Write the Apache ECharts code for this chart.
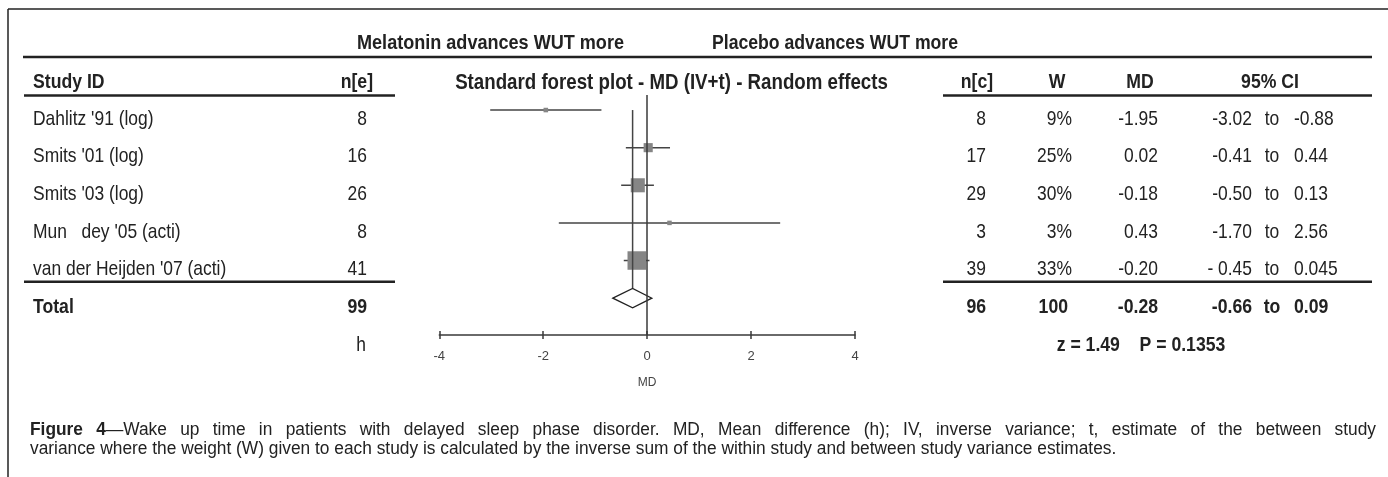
<!DOCTYPE html>
<html>
<head>
<meta charset="utf-8">
<script src="https://cdn.jsdelivr.net/npm/echarts@6/dist/echarts.min.js"></script>
<style>
html, body { margin: 0; padding: 0; background: #ffffff; }
#chart { width: 1388px; height: 477px; }
</style>
</head>
<body>
<div id="chart"></div>
<script>
//Study rows
let study_names = ["Dahlitz '91 (log)", "Smits '01 (log)", "Smits '03 (log)", "Mun   dey '05 (acti)", "van der Heijden '07 (acti)"];
let n_e = [8, 16, 26, 8, 41];
let n_c = [8, 17, 29, 3, 39];
let weights = [9, 25, 30, 3, 33];
let md_values = [-1.95, 0.02, -0.18, 0.43, -0.20];
let ci_low = [-3.02, -0.41, -0.50, -1.70, -0.45];
let ci_high = [-0.88, 0.44, 0.13, 2.56, 0.045];
let md_labels = ["-1.95", "0.02", "-0.18", "0.43", "-0.20"];
let ci_low_labels = ["-3.02", "-0.41", "-0.50", "-1.70", "- 0.45"];
let ci_high_labels = ["-0.88", "0.44", "0.13", "2.56", "0.045"];

//Pooled (random effects) result
let total_n_e = 99;
let total_n_c = 96;
let total_weight = "100";
let total_md = -0.28;
let total_ci_low = -0.66;
let total_ci_high = 0.09;
let total_labels = ["-0.28", "-0.66", "0.09"];
let test_label = "z = 1.49    P = 0.1353";

//Axis
let x_ticks = [-4, -2, 0, 2, 4];
let x_axis_name = "MD";
let unit_label = "h";

//Texts
let side_labels = ["Melatonin advances WUT more", "Placebo advances WUT more"];
let plot_title = "Standard forest plot - MD (IV+t) - Random effects";
let left_headers = ["Study ID", "n[e]"];
let right_headers = ["n[c]", "W", "MD", "95% CI"];
let caption_label = "Figure 4";
let caption_lines = [
	"\u2014Wake up time in patients with delayed sleep phase disorder. MD, Mean difference (h); IV, inverse variance; t, estimate of the between study",
	"variance where the weight (W) given to each study is calculated by the inverse sum of the within study and between study variance estimates."
];

let FONT = "'Liberation Sans', Arial, sans-serif";
let TEXT_COLOUR = "#222222";
let BODY_SIZE = 21;
let NARROW = 0.83; //the figure is set in a condensed face
let TEXT_DROP = 9; //table text sits a little below the plotted marks

let chart = echarts.init(document.getElementById("chart"), null, { renderer: "canvas" });
let measure_ctx = document.createElement("canvas").getContext("2d");

function getBoxSize (arg0_weight) {
	let weight = arg0_weight;
	return 4.5 + 14*Math.pow(weight/33, 4);
}

function getFont (bold, size) {
	return `${bold ? "bold " : ""}${size || BODY_SIZE}px ${FONT}`;
}

function makeText (x, y, text, align, bold, size, scale) {
	return {
		type: "text",
		x: x, y: y,
		scaleX: scale || (bold ? 0.84 : NARROW),
		style: {
			text: text,
			textAlign: align,
			textVerticalAlign: "middle",
			fill: TEXT_COLOUR,
			font: getFont(bold, size)
		}
	};
}

function makeLine (x1, y1, x2, y2, width) {
	return {
		type: "line",
		shape: { x1: x1, y1: y1, x2: x2, y2: y2 },
		style: { stroke: "#222222", lineWidth: width || 2 }
	};
}

//Lay out one caption line word by word so that it fills [x0, x1]
function justifyLine (arg0_words, x0, x1, y, size, scale) {
	let words = arg0_words;
	let elements = [];
	let widths = words.map((local_runs) => {
		let total = 0;
		local_runs.forEach((local_run) => {
			measure_ctx.font = getFont(local_run.bold, size);
			local_run.width = measure_ctx.measureText(local_run.text).width*scale;
			total += local_run.width;
		});
		return total;
	});
	let natural = widths.reduce((a, b) => a + b, 0);
	let gap = (x1 - x0 - natural)/(words.length - 1);
	let x = x0;
	
	words.forEach((local_runs, i) => {
		let run_x = x;
		local_runs.forEach((local_run) => {
			elements.push(makeText(run_x, y, local_run.text, "left", local_run.bold, size, scale));
			run_x += local_run.width;
		});
		x += widths[i] + gap;
	});
	
	return elements;
}

//Build series data
let study_data = md_values.map((local_md, i) => [local_md, i, ci_low[i], ci_high[i], weights[i]]);
let table_data = study_names.map((local_name, i) => [0, i]);

let x_min = x_ticks[0];
let x_max = x_ticks[x_ticks.length - 1];
let x_interval = x_ticks[1] - x_ticks[0];

//Caption words, first one bold
let caption_words = caption_label.split(" ").map((local_word) => [{ text: local_word, bold: true }]);
let first_words = caption_lines[0].split(" ");
caption_words[caption_words.length - 1].push({ text: first_words[0], bold: false });
first_words.slice(1).forEach((local_word) => caption_words.push([{ text: local_word, bold: false }]));
let caption_size = 17.5;
let caption_scale = 0.99;

let option = {
	animation: false,
	backgroundColor: "#ffffff",
	grid: { left: 439.3, right: 533, top: 95, bottom: 142, containLabel: false },
	xAxis: [{
		type: "value",
		min: x_min, max: x_max, interval: x_interval,
		splitLine: { show: false },
		axisLine: { show: true, onZero: false, lineStyle: { color: "#3a3a3a", width: 1.5 } },
		axisTick: { show: true, length: 4, lineStyle: { color: "#3a3a3a", width: 1.5 } },
		axisLabel: { color: "#444444", fontSize: 13, fontFamily: FONT, margin: 15 },
		name: x_axis_name,
		nameLocation: "middle",
		nameGap: 42,
		nameTextStyle: { color: "#444444", fontSize: 12, fontFamily: FONT }
	}, {
		type: "value",
		position: "bottom",
		min: x_min, max: x_max, interval: x_interval,
		splitLine: { show: false },
		axisLine: { show: false, onZero: false },
		axisTick: { show: true, inside: true, length: 4, lineStyle: { color: "#3a3a3a", width: 1.5 } },
		axisLabel: { show: false }
	}],
	yAxis: {
		type: "value",
		inverse: true,
		min: -0.4, max: 5.98,
		show: false
	},
	series: [
		{
			//Line of no effect
			type: "line",
			data: [],
			markLine: {
				silent: true,
				symbol: "none",
				label: { show: false },
				lineStyle: { color: "#3a3a3a", width: 1.5, type: "solid" },
				data: [{ xAxis: 0 }]
			}
		},
		{
			//Study estimates and CIs
			type: "custom",
			clip: false,
			data: study_data,
			renderItem: (params, api) => {
				let centre = api.coord([api.value(0), api.value(1)]);
				let low = api.coord([api.value(2), api.value(1)]);
				let high = api.coord([api.value(3), api.value(1)]);
				let size = getBoxSize(api.value(4));
				
				return {
					type: "group",
					children: [
						{ type: "line", shape: { x1: low[0], y1: low[1], x2: high[0], y2: high[1] }, style: { stroke: "#444444", lineWidth: 1.5 } },
						{ type: "rect", shape: { x: centre[0] - size/2, y: centre[1] - size/2, width: size, height: size }, style: { fill: "#858585" } }
					]
				};
			}
		},
		{
			//Pooled diamond and its reference line
			type: "custom",
			clip: false,
			data: [[total_md, study_names.length, total_ci_low, total_ci_high]],
			renderItem: (params, api) => {
				let centre = api.coord([api.value(0), api.value(1)]);
				let low = api.coord([api.value(2), api.value(1)]);
				let high = api.coord([api.value(3), api.value(1)]);
				let top_row = api.coord([api.value(0), 0]);
				let half = 9.7;
				
				return {
					type: "group",
					children: [
						{ type: "line", shape: { x1: centre[0], y1: top_row[1], x2: centre[0], y2: centre[1] - half }, style: { stroke: "#444444", lineWidth: 1.5 } },
						{ type: "polygon", shape: { points: [[low[0], centre[1]], [centre[0], centre[1] - half], [high[0], centre[1]], [centre[0], centre[1] + half]] }, style: { fill: "#ffffff", stroke: "#222222", lineWidth: 1.3 } }
					]
				};
			}
		},
		{
			//Table rows on both sides of the plot
			type: "custom",
			clip: false,
			silent: true,
			data: table_data.concat([[0, study_names.length], [0, study_names.length + 1]]),
			renderItem: (params, api) => {
				let i = api.value(1);
				let y = api.coord([0, i])[1] + TEXT_DROP;
				let children = [];
				
				if (i < study_names.length) {
					children.push(makeText(33, y, study_names[i], "left"));
					children.push(makeText(367, y, String(n_e[i]), "right"));
					children.push(makeText(986, y, String(n_c[i]), "right"));
					children.push(makeText(1072, y, `${weights[i]}%`, "right"));
					children.push(makeText(1158, y, md_labels[i], "right"));
					children.push(makeText(1252, y, ci_low_labels[i], "right"));
					children.push(makeText(1272, y, "to", "center"));
					children.push(makeText(1294, y, ci_high_labels[i], "left"));
				} else if (i === study_names.length) {
					children.push(makeText(33, y, "Total", "left", true));
					children.push(makeText(367, y, String(total_n_e), "right", true));
					children.push(makeText(986, y, String(total_n_c), "right", true));
					children.push(makeText(1068, y, total_weight, "right", true));
					children.push(makeText(1158, y, total_labels[0], "right", true));
					children.push(makeText(1252, y, total_labels[1], "right", true));
					children.push(makeText(1272, y, "to", "center", true));
					children.push(makeText(1294, y, total_labels[2], "left", true));
				} else {
					children.push(makeText(366, y, unit_label, "right"));
					children.push(makeText(1141, y, test_label, "center", true));
				}
				
				return { type: "group", children: children };
			}
		}
	],
	graphic: [
		//Frame
		makeLine(8, 9, 1388, 9, 1.5),
		makeLine(8, 9, 8, 477, 1.5),
		//Rules
		makeLine(23, 57, 1372, 57, 2.5),
		makeLine(24, 95.5, 395, 95.5, 2.5),
		makeLine(943, 95.5, 1372, 95.5, 2.5),
		makeLine(24, 281.7, 395, 281.7, 2.5),
		makeLine(943, 281.7, 1372, 281.7, 2.5),
		//Headers
		makeText(490.5, 43, side_labels[0], "center", true, 21, 0.86),
		makeText(835, 43, side_labels[1], "center", true, 21, 0.84),
		makeText(671.5, 82.7, plot_title, "center", true, 22, 0.85),
		makeText(33, 82, left_headers[0], "left", true),
		makeText(373, 82, left_headers[1], "right", true),
		makeText(977, 82, right_headers[0], "center", true),
		makeText(1057, 82, right_headers[1], "center", true),
		makeText(1140, 82, right_headers[2], "center", true),
		makeText(1270, 82, right_headers[3], "center", true)
	]
		//Caption
		.concat(justifyLine(caption_words, 30, 1376, 430, caption_size, caption_scale))
		.concat([makeText(30, 449, caption_lines[1], "left", false, caption_size, caption_scale)])
};

chart.setOption(option);
</script>
</body>
</html>
